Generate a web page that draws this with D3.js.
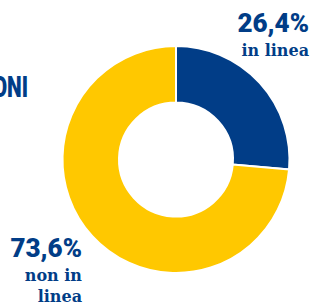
<!DOCTYPE html>
<html>
<head>
<meta charset="utf-8">
<script src="https://cdn.jsdelivr.net/npm/d3@7"></script>
<style>
  body{margin:0;background:#fff;}
</style>
</head>
<body>
<div id="chart"></div>
<script>
var categories = ["in linea", "non in linea"];
var values = [26.4, 73.6];
var valueLabels = ["26,4%", "73,6%"];
var colors = ["#013d87", "#ffc800"];

var width = 313, height = 305;
var cx = 176, cy = 159.5;
var outer = 113.5, inner = 57;

var svg = d3.select("#chart").append("svg")
    .attr("width", width)
    .attr("height", height);

// cut-off title on the left
svg.append("text")
    .attr("transform", "translate(28,97) scale(0.72,1)")
    .attr("text-anchor", "end")
    .style("font-family", "Roboto")
    .style("font-weight", "900")
    .style("font-size", "29px")
    .attr("fill", "#013d87")
    .text("AZIONI");

var pie = d3.pie().sort(null).value(function(d){ return d; });
var arc = d3.arc().innerRadius(inner).outerRadius(outer);

var g = svg.append("g").attr("transform", "translate(" + cx + "," + cy + ")");

g.selectAll("path")
    .data(pie(values))
    .enter()
    .append("path")
    .attr("d", arc)
    .attr("fill", function(d, i){ return colors[i]; })
    .attr("stroke", "#fff")
    .attr("stroke-width", 2);

// labels
var labelPos = [
    {x: 309, y: 32},
    {x: 82, y: 257}
];
var subLines = [["in linea"], ["non in", "linea"]];

labelPos.forEach(function(p, i){
    svg.append("text")
        .attr("x", p.x)
        .attr("y", p.y)
        .attr("text-anchor", "end")
        .style("font-family", "Roboto")
        .style("font-weight", "900")
        .style("font-size", "26px")
        .attr("fill", colors[0])
        .text(valueLabels[i]);
    subLines[i].forEach(function(t, j){
        svg.append("text")
            .attr("x", p.x)
            .attr("y", p.y + 24 + j * 21)
            .attr("text-anchor", "end")
            .style("font-family", "DejaVu Serif")
            .style("font-weight", "700")
            .style("font-size", "16px")
            .attr("fill", colors[0])
            .text(t);
    });
});
</script>
</body>
</html>
